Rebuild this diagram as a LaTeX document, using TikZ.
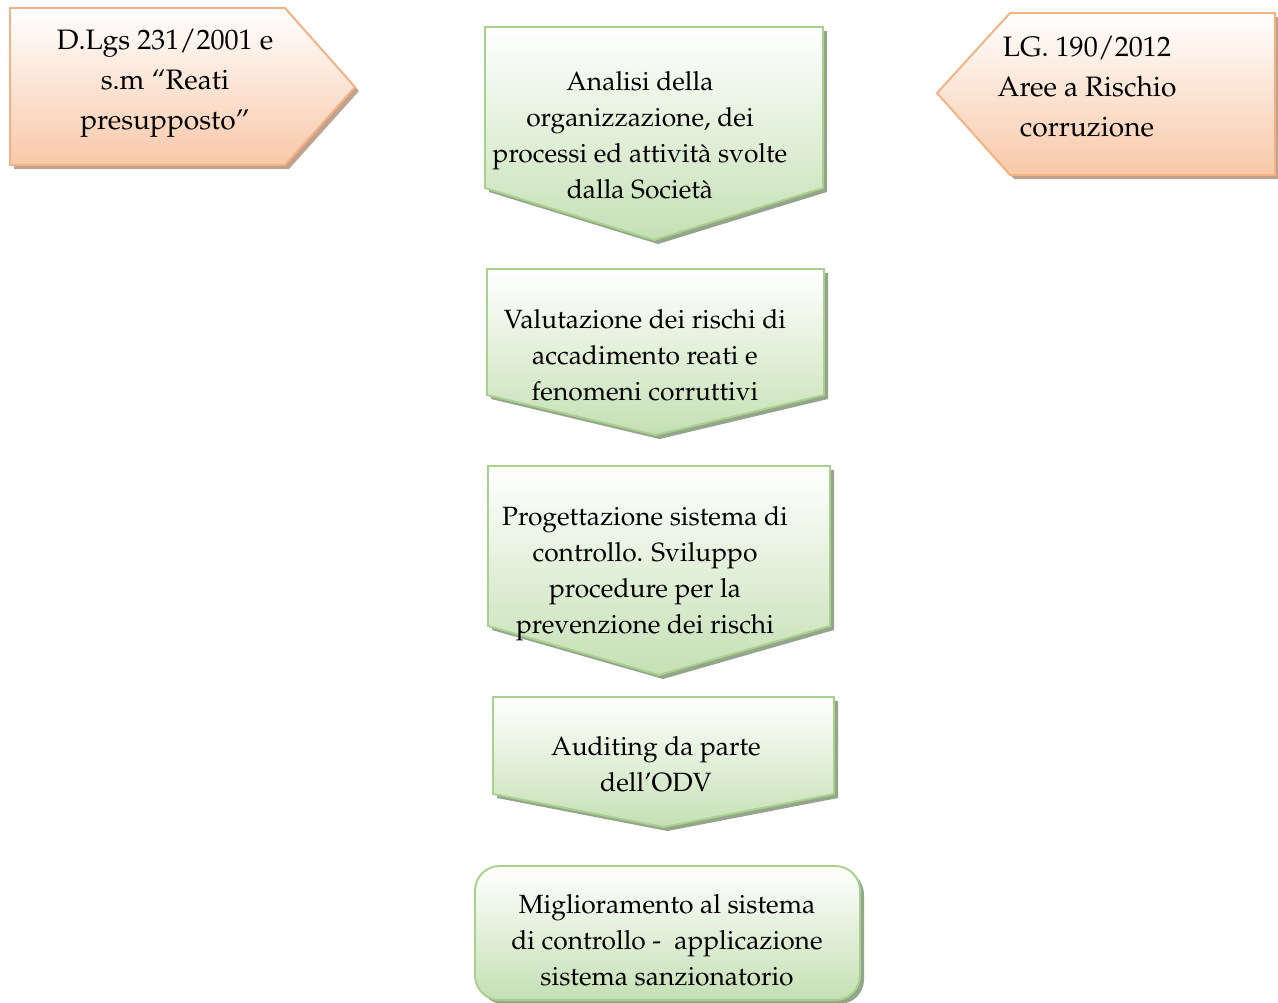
\documentclass[tikz,border=0pt]{standalone}
\usepackage[T1]{fontenc}
\usepackage{mathpazo}
\definecolor{orangeline}{HTML}{F4B183}
\definecolor{orangefill}{HTML}{F8C8A8}
\definecolor{orangeshade}{HTML}{C0A38E}
\definecolor{greenline}{HTML}{A9D18E}
\definecolor{greenfill}{HTML}{C5E0B4}
\definecolor{greenshade}{HTML}{95A58C}
\begin{document}
\begin{tikzpicture}[x=0.02cm,y=-0.02cm,
    orangebox/.style={draw=orangeline,line width=1.1pt,top color=white,bottom color=orangefill},
    orangeshadow/.style={fill=orangeshade,shift={(4,4)}},
    greenbox/.style={draw=greenline,line width=1.1pt,top color=white,bottom color=greenfill},
    greenshadow/.style={fill=greenshade,shift={(4,4)}},
    sidetext/.style={align=center,font=\fontsize{16}{22.8}\selectfont},
    steptext/.style={align=center,font=\fontsize{15}{20.5}\selectfont}]
  \useasboundingbox (0,0) rectangle (1278,1002);

  % Side arrows
  \fill[orangeshadow] (10,8) -- (285,8) -- (355,87) -- (285,165) -- (10,165) -- cycle;
  \path[orangebox] (10,8) -- (285,8) -- (355,87) -- (285,165) -- (10,165) -- cycle;
  \fill[orangeshadow] (1010,13) -- (1275,13) -- (1275,175) -- (1010,175) -- (937,93) -- cycle;
  \path[orangebox] (1010,13) -- (1275,13) -- (1275,175) -- (1010,175) -- (937,93) -- cycle;

  \node[sidetext] (reati) at (165,83) {D.Lgs 231/2001 e\\ s.m ``Reati\\ presupposto''};
  \node[sidetext] (rischio) at (1087,87) {LG. 190/2012\\ Aree a Rischio\\ corruzione};

  % Steps pointing down
  \foreach \l/\t/\r/\s/\m in {485/27/823/188/240, 487/269/824/395/435,
      488/466/830/626/675, 493/697/834/794/827} {
    \fill[greenshadow] (\l,\t) -- (\r,\t) -- (\r,\s) -- ({(\l+\r)/2},\m) -- (\l,\s) -- cycle;
    \path[greenbox] (\l,\t) -- (\r,\t) -- (\r,\s) -- ({(\l+\r)/2},\m) -- (\l,\s) -- cycle;
  }

  % Last step
  \fill[greenshadow,rounded corners=14pt] (475,866) rectangle (860,1000);
  \path[greenbox,rounded corners=14pt] (475,866) rectangle (860,1000);

  \node[steptext] (analisi) at (640,135) {Analisi della\\ organizzazione, dei\\ processi ed attivit\`a svolte\\ dalla Societ\`a};
  \node[steptext] (valutazione) at (645,355) {Valutazione dei rischi di\\ accadimento reati e\\ fenomeni corruttivi};
  \node[steptext] (progettazione) at (645,574) {Progettazione sistema di\\ controllo. Sviluppo\\ procedure per la\\ prevenzione dei rischi};
  \node[steptext] (auditing) at (656,764) {Auditing da parte\\ dell'ODV};
  \node[steptext] (miglioramento) at (667,940) {Miglioramento al sistema\\ di controllo -\ \ applicazione\\ sistema sanzionatorio};
\end{tikzpicture}
\end{document}
